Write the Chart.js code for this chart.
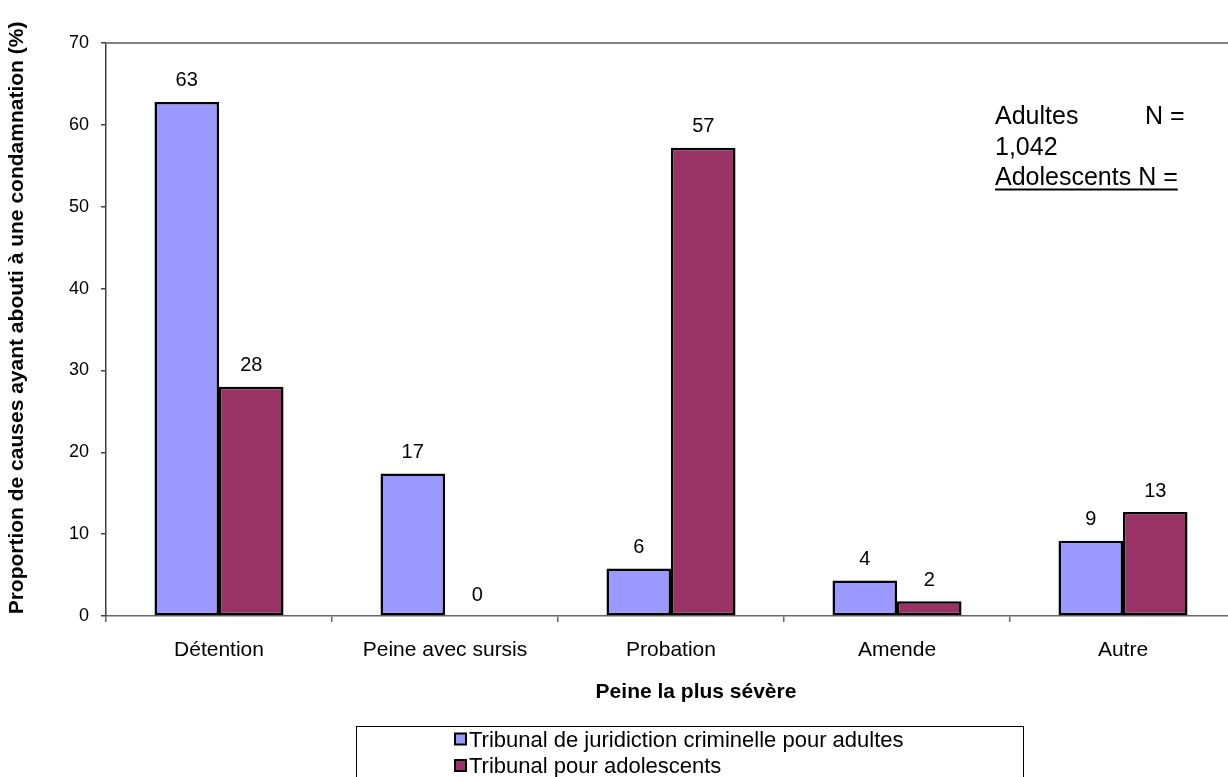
<!DOCTYPE html>
<html>
<head>
<meta charset="utf-8">
<script src="https://cdn.jsdelivr.net/npm/chart.js@4"></script>
<style>
  html, body { margin: 0; padding: 0; background: #fff; overflow: hidden; }
  #wrap { width: 1240px; height: 777px; position: relative; }
</style>
</head>
<body>
<div id="wrap"><canvas id="c"></canvas></div>
<script>
// ── Data ──
const categories  = ['Détention', 'Peine avec sursis', 'Probation', 'Amende', 'Autre'];
const adultes     = [62.8, 17.4, 5.8, 4.35, 9.2];
const adolescents = [28.0, 0, 57.2, 1.8, 12.7];
const seriesNames = ['Tribunal de juridiction criminelle pour adultes', 'Tribunal pour adolescents'];
const seriesColors = ['#9999FF', '#993366'];
const yMin = 0, yMax = 70, yStep = 10;
const xTitle = 'Peine la plus sévère';
const yTitle = 'Proportion de causes ayant abouti à une condamnation (%)';
const noteLines = ['Adultes', '1,042', 'Adolescents N ='];

const FF = "'Liberation Sans', Arial, sans-serif";

// ── Decorations: value labels, frame, titles, legend, note ──
const decor = {
  id: 'decor',
  afterDatasetsDraw(chart) {
    const ctx = chart.ctx;
    ctx.save();
    ctx.font = '20px ' + FF;
    ctx.fillStyle = '#000';
    ctx.textAlign = 'center';
    ctx.textBaseline = 'alphabetic';
    chart.data.datasets.forEach((ds, di) => {
      chart.getDatasetMeta(di).data.forEach((bar, i) => {
        ctx.fillText(String(Math.round(ds.data[i])), bar.x, bar.y - 15.5);
      });
    });
    ctx.restore();
  },
  afterDraw(chart) {
    const ctx = chart.ctx, a = chart.chartArea;
    ctx.save();
    // plot frame (top / right)
    ctx.strokeStyle = '#808080';
    ctx.lineWidth = 2;
    ctx.beginPath();
    ctx.moveTo(a.left, a.top); ctx.lineTo(a.right, a.top); ctx.lineTo(a.right, a.bottom);
    ctx.stroke();

    // y title
    ctx.fillStyle = '#000';
    ctx.font = 'bold 21px ' + FF;
    ctx.textAlign = 'center';
    ctx.textBaseline = 'middle';
    ctx.save();
    ctx.translate(17, 318);
    ctx.rotate(-Math.PI / 2);
    ctx.fillText(yTitle, 0, 0);
    ctx.restore();

    // x title
    ctx.textBaseline = 'alphabetic';
    ctx.fillText(xTitle, 696, 698);

    // legend box
    ctx.strokeStyle = '#000';
    ctx.lineWidth = 1;
    ctx.strokeRect(356.5, 726.5, 667, 80);
    ctx.font = '22px ' + FF;
    ctx.textAlign = 'left';
    seriesNames.forEach((n, i) => {
      const y = 733.5 + i * 26.5;
      ctx.fillStyle = seriesColors[i];
      ctx.fillRect(455, y, 11, 11);
      ctx.lineWidth = 2;
      ctx.strokeStyle = '#000';
      ctx.strokeRect(455, y, 11, 11);
      ctx.fillStyle = '#000';
      ctx.fillText(n, 469, 746.5 + i * 26.5);
    });

    // sample size note
    ctx.font = '25px ' + FF;
    ctx.fillText(noteLines[0], 995, 124);
    ctx.fillText('N =', 1145, 124);
    ctx.fillText(noteLines[1], 995, 155);
    ctx.fillText(noteLines[2], 995, 185);
    const w = ctx.measureText(noteLines[2]).width;
    ctx.fillRect(995, 188.5, w, 2);
    ctx.restore();
  }
};

new Chart(document.getElementById('c').getContext('2d'), {
  type: 'bar',
  data: {
    labels: categories,
    datasets: [
      { label: seriesNames[0], data: adultes,     backgroundColor: seriesColors[0] },
      { label: seriesNames[1], data: adolescents, backgroundColor: seriesColors[1] }
    ].map(d => ({
      ...d,
      borderColor: '#000',
      borderWidth: c => (c.raw === 0 ? 0 : 2.5),
      borderSkipped: false,
      categoryPercentage: 0.571,
      barPercentage: 1
    }))
  },
  options: {
    responsive: true,
    maintainAspectRatio: false,
    animation: false,
    layout: { padding: { top: 43, right: 4, left: 0, bottom: 0 } },
    plugins: { legend: { display: false }, tooltip: { enabled: false } },
    scales: {
      x: {
        afterFit: s => { s.height = 161; },
        grid: { offset: true, drawOnChartArea: false, drawTicks: true, tickLength: 6, color: '#666', lineWidth: 1.5 },
        border: { color: '#666', width: 1.5 },
        ticks: { color: '#000', font: { family: FF, size: 21 }, padding: 16, maxRotation: 0 }
      },
      y: {
        min: yMin, max: yMax,
        afterFit: s => { s.width = 106; },
        grid: { drawOnChartArea: false, drawTicks: true, tickLength: 5, color: '#404040', lineWidth: 1.5 },
        border: { color: '#404040', width: 1.5 },
        ticks: { stepSize: yStep, color: '#000', font: { family: FF, size: 18 }, padding: 12 }
      }
    }
  },
  plugins: [decor]
});
</script>
</body>
</html>
